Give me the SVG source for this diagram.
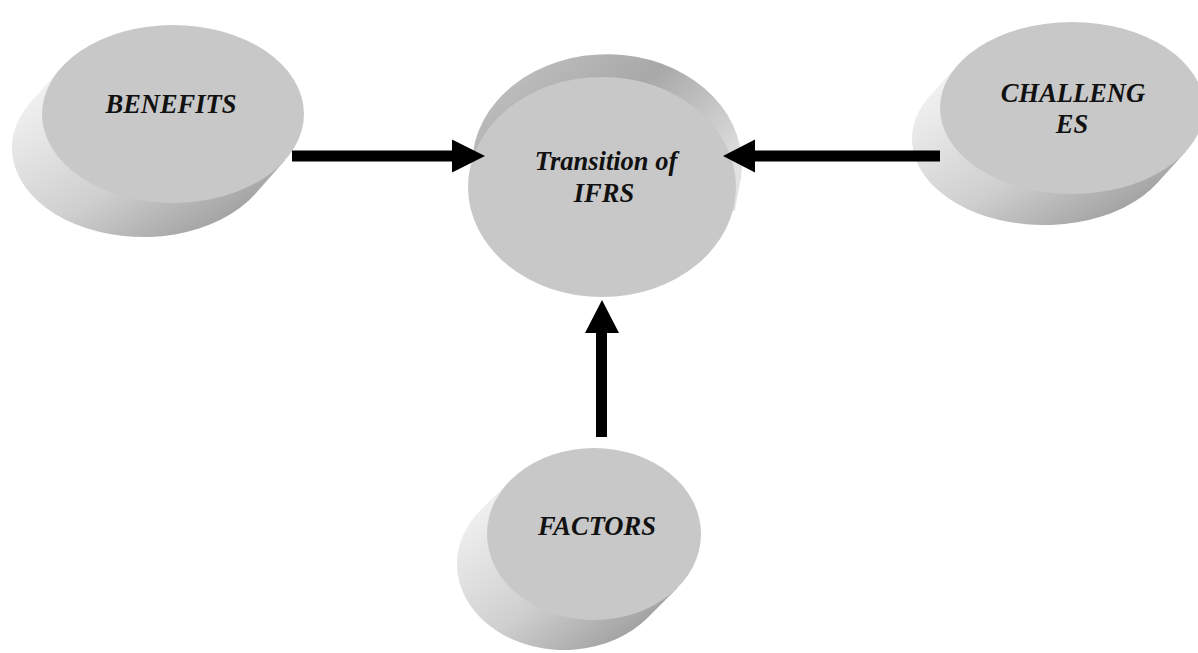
<svg xmlns="http://www.w3.org/2000/svg" width="1198" height="653" viewBox="0 0 1198 653">
  <defs>
    <linearGradient id="sideDL" x1="0" y1="0.25" x2="0.75" y2="1">
      <stop offset="0" stop-color="#f0f0f0"/>
      <stop offset="0.55" stop-color="#cfcfcf"/>
      <stop offset="1" stop-color="#9e9e9e"/>
    </linearGradient>
    <linearGradient id="sideUR" x1="0.1" y1="0.1" x2="1" y2="0.7">
      <stop offset="0" stop-color="#c0c0c0"/>
      <stop offset="0.45" stop-color="#a8a8a8"/>
      <stop offset="1" stop-color="#e2e2e2"/>
    </linearGradient>
    <style>
      .face { fill: #c8c8c8; }
      .lbl { font-family: "Liberation Serif", "Times New Roman", serif; font-weight: bold; font-style: italic; font-size: 26.5px; fill: #111; text-anchor: middle; }
      .arrow { fill: #000; }
    </style>
  </defs>
  <rect width="1198" height="653" fill="#fff"/>

  <g id="node-benefits">
    <path fill="url(#sideDL)" d="M60.6,68.2 L30.6,102.2 A131,89 0 1 0 255.4,193.8 L285.4,159.8 Z"/>
    <ellipse class="face" cx="173" cy="114" rx="131" ry="89"/>
    <text class="lbl" x="171" y="113">BENEFITS</text>
  </g>

  <g id="node-center">
    <path fill="url(#sideUR)" d="M471.2,163.1 L475.2,141.1 A134,110 0 1 1 738.8,188.9 L734.8,210.9 Z"/>
    <ellipse class="face" cx="602" cy="187" rx="134" ry="110"/>
    <text class="lbl" x="606" y="170">Transition of</text>
    <text class="lbl" x="604" y="202">IFRS</text>
  </g>

  <g id="node-challenges">
    <path fill="url(#sideDL)" d="M958.2,64.4 L930.2,95.4 A132,86 0 1 0 1157.8,182.6 L1185.8,151.6 Z"/>
    <ellipse class="face" cx="1072" cy="108" rx="132" ry="86"/>
    <text class="lbl" x="1073" y="102">CHALLENG</text>
    <text class="lbl" x="1072" y="133">ES</text>
  </g>

  <g id="node-factors">
    <path fill="url(#sideDL)" d="M510.6,480.1 L480.6,510.1 A107,86 0 1 0 647.4,617.9 L677.4,587.9 Z"/>
    <ellipse class="face" cx="594" cy="534" rx="107" ry="86"/>
    <text class="lbl" x="597" y="535">FACTORS</text>
  </g>

  <g id="connectors">
    <polygon class="arrow" points="292,150.5 452,150.5 452,139.5 485,156 452,172.5 452,161.5 292,161.5"/>
    <polygon class="arrow" points="940,150.5 755,150.5 755,139.5 723,156 755,172.5 755,161.5 940,161.5"/>
    <polygon class="arrow" points="596,437 596,333 585,333 602,300 619,333 607,333 607,437"/>
  </g>
</svg>
